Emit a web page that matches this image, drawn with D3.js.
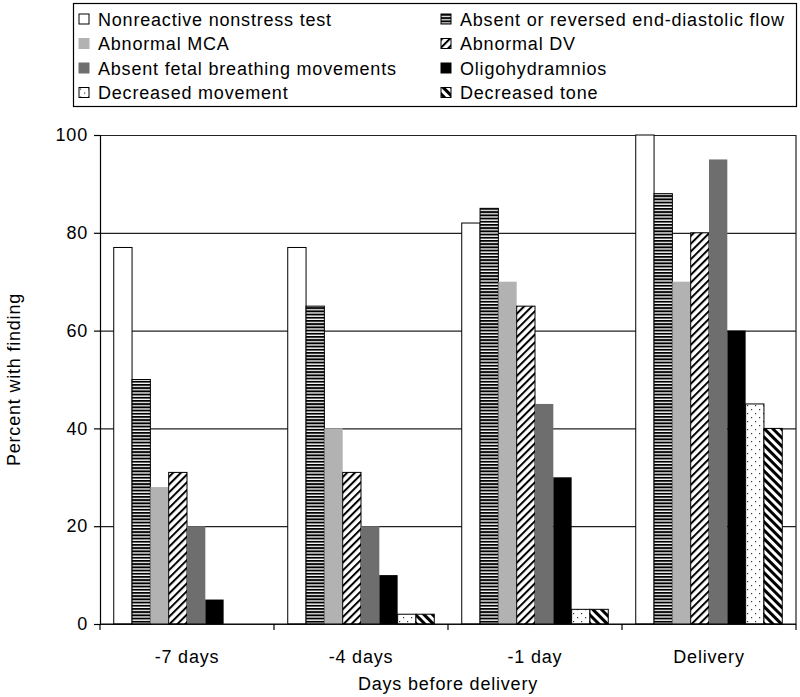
<!DOCTYPE html>
<html>
<head>
<meta charset="utf-8">
<script src="https://cdn.jsdelivr.net/npm/d3@7"></script>
<style>
  body { margin: 0; background: #fff; }
  svg text { font-family: "Liberation Sans", Arial, sans-serif; fill: #000; letter-spacing: 0.8px; }
</style>
</head>
<body>
<div id="chart"></div>
<script>
const categories = ['-7 days', '-4 days', '-1 day', 'Delivery']
const seriesNames = [
  'Nonreactive nonstress test',
  'Absent or reversed end-diastolic flow',
  'Abnormal MCA',
  'Abnormal DV',
  'Absent fetal breathing movements',
  'Oligohydramnios',
  'Decreased movement',
  'Decreased tone'
]
// percent with finding, one array per series, in category order
const nonreactive = [77, 77, 82, 100]
const absentFlow = [50, 65, 85, 88]
const abnormalMCA = [28, 40, 70, 70]
const abnormalDV = [31, 31, 65, 80]
const absentBreathing = [20, 20, 45, 95]
const oligohydramnios = [5, 10, 30, 60]
const decreasedMovement = [0, 2, 3, 45]
const decreasedTone = [0, 2, 3, 40]
const yTicks = [0, 20, 40, 60, 80, 100]

const seriesValues = [nonreactive, absentFlow, abnormalMCA, abnormalDV,
  absentBreathing, oligohydramnios, decreasedMovement, decreasedTone]

const width = 800
const height = 697
const margin = { top: 135, right: 4, bottom: 73, left: 100 }

const svg = d3.select('#chart').append('svg')
  .attr('width', width)
  .attr('height', height)

// Patterns for the hatched series
const defs = svg.append('defs')

const hStripes = defs.append('pattern')
  .attr('id', 'hstripes').attr('patternUnits', 'userSpaceOnUse')
  .attr('width', 6).attr('height', 3.2)
hStripes.append('rect').attr('width', 6).attr('height', 3.2).attr('fill', '#fff')
hStripes.append('rect').attr('width', 6).attr('height', 1.9).attr('fill', '#000')

const fwdDiag = defs.append('pattern')
  .attr('id', 'fwddiag').attr('patternUnits', 'userSpaceOnUse')
  .attr('width', 5.5).attr('height', 5.5)
  .attr('patternTransform', 'rotate(45)')
fwdDiag.append('rect').attr('width', 5.5).attr('height', 5.5).attr('fill', '#fff')
fwdDiag.append('rect').attr('width', 2).attr('height', 5.5).attr('fill', '#000')

const backDiag = defs.append('pattern')
  .attr('id', 'backdiag').attr('patternUnits', 'userSpaceOnUse')
  .attr('width', 6).attr('height', 6)
  .attr('patternTransform', 'rotate(-45)')
backDiag.append('rect').attr('width', 6).attr('height', 6).attr('fill', '#fff')
backDiag.append('rect').attr('width', 3).attr('height', 6).attr('fill', '#000')

const dots = defs.append('pattern')
  .attr('id', 'dots').attr('patternUnits', 'userSpaceOnUse')
  .attr('width', 8).attr('height', 8)
dots.append('rect').attr('width', 8).attr('height', 8).attr('fill', '#fff')
dots.append('rect').attr('x', 1).attr('y', 1).attr('width', 1.2).attr('height', 1.2).attr('fill', '#333')
dots.append('rect').attr('x', 5).attr('y', 5).attr('width', 1.2).attr('height', 1.2).attr('fill', '#333')

const fills = ['#fff', 'url(#hstripes)', '#b2b2b2', 'url(#fwddiag)', '#6e6e6e', '#000', 'url(#dots)', 'url(#backdiag)']
const strokes = ['#000', '#000', 'none', '#000', 'none', 'none', '#000', '#000']

// Scales
const x0 = d3.scaleBand()
  .domain(categories)
  .range([margin.left, width - margin.right])

const x1 = d3.scaleBand()
  .domain(d3.range(seriesNames.length))
  .range([0, x0.bandwidth()])
  .paddingOuter(0.75)

const y = d3.scaleLinear()
  .domain([0, 100])
  .range([height - margin.bottom, margin.top])

// Gridlines
svg.append('g')
  .attr('transform', `translate(${margin.left},0)`)
  .call(d3.axisLeft(y).tickValues(yTicks).tickSize(-(width - margin.left - margin.right)).tickFormat(''))
  .call(g => g.select('.domain').remove())
  .call(g => g.selectAll('line').attr('stroke', '#222').attr('stroke-width', 1.2))

// Right border of plot area
svg.append('line')
  .attr('x1', width - margin.right).attr('x2', width - margin.right)
  .attr('y1', y(100)).attr('y2', y(0))
  .attr('stroke', '#222').attr('stroke-width', 1.2)

// Bars
const groups = svg.append('g').selectAll('g')
  .data(categories)
  .join('g')
  .attr('transform', d => `translate(${x0(d)},0)`)

groups.selectAll('rect')
  .data((d, ci) => seriesValues.map((vals, si) => ({ si, v: vals[ci] })).filter(d => d.v > 0))
  .join('rect')
  .attr('x', d => x1(d.si))
  .attr('width', x1.bandwidth())
  .attr('y', d => y(d.v))
  .attr('height', d => y(0) - y(d.v))
  .attr('fill', d => fills[d.si])
  .attr('stroke', d => strokes[d.si])
  .attr('stroke-width', 1)

// Left axis
svg.append('g')
  .attr('transform', `translate(${margin.left},0)`)
  .call(d3.axisLeft(y).tickValues(yTicks).tickSize(6).tickPadding(6))
  .call(g => g.selectAll('text').attr('font-size', 18).attr('font-family', '"Liberation Sans", Arial, sans-serif'))
  .call(g => g.selectAll('line, .domain').attr('stroke', '#000').attr('stroke-width', 1.2))

// Bottom axis with ticks between categories
const xAxis = svg.append('g')
  .attr('transform', `translate(0,${y(0)})`)
xAxis.append('line')
  .attr('x1', margin.left).attr('x2', width - margin.right)
  .attr('stroke', '#000').attr('stroke-width', 1.2)
xAxis.selectAll('.tick')
  .data(categories.concat(['end']))
  .join('line')
  .attr('x1', (d, i) => i < categories.length ? x0(d) : width - margin.right)
  .attr('x2', (d, i) => i < categories.length ? x0(d) : width - margin.right)
  .attr('y2', 6)
  .attr('stroke', '#000').attr('stroke-width', 1.2)
xAxis.selectAll('.label')
  .data(categories)
  .join('text')
  .attr('x', d => x0(d) + x0.bandwidth() / 2)
  .attr('y', 39)
  .attr('text-anchor', 'middle')
  .attr('font-size', 18)
  .text(d => d)

// Axis titles
svg.append('text')
  .attr('x', (margin.left + width - margin.right) / 2)
  .attr('y', 690)
  .attr('text-anchor', 'middle')
  .attr('font-size', 18)
  .text('Days before delivery')

svg.append('text')
  .attr('transform', `translate(20,${(y(0) + y(100)) / 2}) rotate(-90)`)
  .attr('text-anchor', 'middle')
  .attr('font-size', 18)
  .text('Percent with finding')

// Legend
const legend = svg.append('g')
legend.append('rect')
  .attr('x', 73.5).attr('y', 3.5).attr('width', 723).attr('height', 103)
  .attr('fill', '#fff').attr('stroke', '#000').attr('stroke-width', 1.2)

const legendItems = legend.selectAll('g')
  .data(seriesNames)
  .join('g')
  .attr('transform', (d, i) => `translate(${i % 2 === 0 ? 79 : 441},${14 + Math.floor(i / 2) * 24.5})`)

legendItems.append('rect')
  .attr('width', 10).attr('height', 10)
  .attr('fill', (d, i) => fills[i])
  .attr('stroke', (d, i) => strokes[i] === 'none' ? fills[i] : '#000')
  .attr('stroke-width', 1)

legendItems.append('text')
  .attr('x', 19).attr('y', 11.5)
  .attr('font-size', 18)
  .text(d => d)
</script>
</body>
</html>
